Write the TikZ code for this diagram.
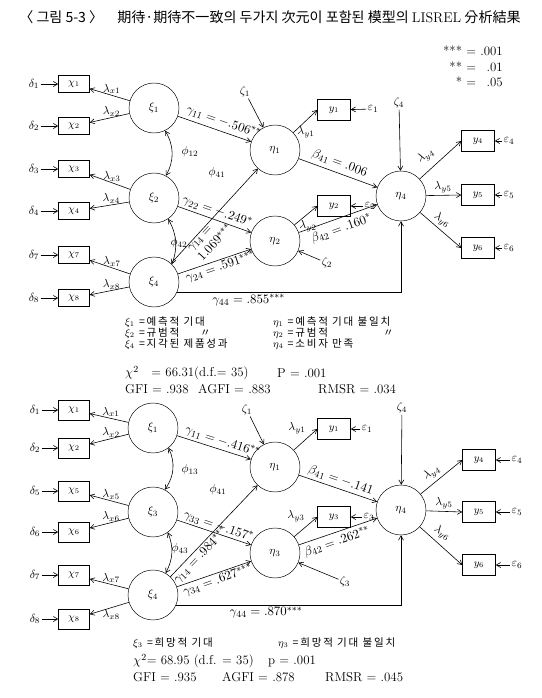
\documentclass[tikz,border=0pt]{standalone}
\usepackage{amsmath}
\usepackage{fontspec}
\newfontfamily\kr{Noto Sans CJK KR}
\usetikzlibrary{
  positioning,
  arrows.meta
}
\newcommand{\statfont}{\fontsize{11}{13}\selectfont\addfontfeatures{LetterSpace=12}}

\begin{document}
\begin{tikzpicture}[
  x=0.03cm, y=-0.03cm,
  lat/.style={draw, circle, minimum size=1.5cm, inner sep=0pt},
  xbox/.style={draw, minimum width=0.93cm, minimum height=0.5cm, inner sep=0pt, font=\small},
  xboxb/.style={xbox, minimum height=0.6cm},
  ybox/.style={draw, minimum width=0.99cm, minimum height=0.63cm, inner sep=0pt, font=\small},
  lab/.style={inner sep=1pt},
  val/.style={inner sep=1pt, font=\fontsize{11}{13}\selectfont},
  txt/.style={inner sep=0pt, anchor=west, font=\statfont},
  kor/.style={inner sep=0pt, anchor=west, font=\kr\fontsize{9}{10}\selectfont\addfontfeatures{LetterSpace=17}},
  arr/.style={-{Straight Barb[length=1.3mm, width=1.5mm]}, line width=0.5pt},
  darr/.style={{Straight Barb[length=1.3mm, width=1.5mm]}-{Straight Barb[length=1.3mm, width=1.5mm]}, line width=0.5pt}
]
  \useasboundingbox (0,0) rectangle (542,698);

  % Title and significance levels
  \node[font=\kr\fontsize{12}{14}\selectfont] (title) at (270,17)
    {〈 그림 5-3 〉\quad 期待·期待不一致의 두가지 次元이 포함된 模型의 {\rmfamily LISREL} 分析結果};
  \node[anchor=east, inner sep=0pt, font=\fontsize{11}{13}\selectfont] (sig) at (503,68)
    {\begin{tabular}{@{}r@{ = }r@{}} ***&.001\\ **&.01\\ *&.05\end{tabular}};

  % ---------- first model ----------
  \node[lat] (txi1) at (154,108) {$\xi_1$};
  \node[lat] (txi2) at (154,198) {$\xi_2$};
  \node[lat] (txi4) at (154,282) {$\xi_4$};
  \node[lat] (teta1) at (275,150) {$\eta_1$};
  \node[lat] (teta2) at (275,241) {$\eta_2$};
  \node[lat] (teta4) at (401,196) {$\eta_4$};

  \foreach \n/\yy/\src in {1/84/txi1, 2/126/txi1, 3/169/txi2, 4/211/txi2, 7/255/txi4, 8/298/txi4} {
    \node[xbox] (tx\n) at (74,\yy) {$\chi_{\n}$};
    \node[lab] (td\n) at (34,\yy) {$\delta_{\n}$};
    \draw[arr] (td\n) -- (tx\n);
    \draw[arr] (\src) -- (tx\n) node[lab, anchor=south, pos=0.45] {$\lambda_{x\n}$};
  }

  \node[ybox] (ty1) at (334,110) {$y_1$};
  \node[ybox] (ty2) at (334,206) {$y_2$};
  \node[ybox] (ty4) at (478,141) {$y_4$};
  \node[ybox] (ty5) at (478,195) {$y_5$};
  \node[ybox] (ty6) at (478,248) {$y_6$};
  \node[lab] (te1) at (373,109) {$\varepsilon_1$};
  \node[lab] (te2) at (370,206) {$\varepsilon_2$};
  \node[lab] (te4) at (509,141) {$\varepsilon_4$};
  \node[lab] (te5) at (509,195) {$\varepsilon_5$};
  \node[lab] (te6) at (509,248) {$\varepsilon_6$};
  \foreach \n in {1,2,4,5,6} \draw[arr] (te\n) -- (ty\n);

  \node[lab] (tz1) at (245,92) {$\zeta_1$};
  \node[lab] (tz2) at (327,263) {$\zeta_2$};
  \node[lab] (tz4) at (399,103) {$\zeta_4$};
  \draw[arr] (tz1) -- (teta1);
  \draw[arr] (tz2) -- (teta2);
  \draw[arr] (tz4) -- (teta4);

  % loadings of the eta's
  \draw[arr] (teta1) -- (ty1.west);
  \draw[arr] (teta2) -- (ty2.west);
  \draw[arr] (teta4) -- (ty4.west);
  \draw[arr] (teta4) -- (ty5.west);
  \draw[arr] (teta4) -- (ty6.west);
  \node[lab] (tly1) at (306,132) {$\lambda_{y1}$};
  \node[lab] (tly2) at (308,226) {$\lambda_{y2}$};
  \node[lab, rotate=30] (tly4) at (426,156) {$\lambda_{y4}$};
  \node[lab] (tly5) at (443,187) {$\lambda_{y5}$};
  \node[lab, rotate=-35] (tly6) at (442,220) {$\lambda_{y6}$};

  % correlations
  \draw[darr] (txi1.-64) to[bend left=30] (txi2.62);
  \draw[darr] (txi2.-56) to[bend left=25] (txi4.45);
  \node[lab] (tphi12) at (190,152) {$\phi_{12}$};
  \node[lab] (tphi42) at (179,243) {$\phi_{42}$};
  \node[lab] (tphi41) at (217,173) {$\phi_{41}$};

  % structural paths
  \draw[arr] (txi1) -- (teta1) node[val, sloped, above=2pt, pos=0.58] {$\gamma_{11}=-.506^{**}$};
  \draw[arr] (txi2) -- (teta2) node[val, sloped, above=1pt, pos=0.5] {$\gamma_{22}=-.249^{*}$};
  \draw[arr] (txi4) -- (teta1) node[val, sloped, below, pos=0.35, align=left] {$\gamma_{14}=$\\$1.069^{***}$};
  \draw[arr] (txi4) -- (teta2) node[val, sloped, below, pos=0.55] {$\gamma_{24}=.591^{***}$};
  \draw[arr] (txi4.-25) -| (teta4) node[val, below, pos=0.16] {$\gamma_{44}=.855^{***}$};
  \draw[arr] (teta1) -- (teta4) node[val, sloped, above=2pt, pos=0.48] {$\beta_{41}=.006$};
  \draw[arr] (teta2) -- (teta4) node[val, sloped, below=3pt, pos=0.5] {$\beta_{42}=.160^{*}$};

  % legend
  \node[kor] (tk1) at (125,322) {$\xi_1$ =예측적 기대};
  \node[kor] (tk2) at (125,333) {$\xi_2$ =규범적};
  \node[kor] (tk2d) at (200,333) {〃};
  \node[kor] (tk4) at (125,344) {$\xi_4$ =지각된 제품성과};
  \node[kor] (tm1) at (273,322) {$\eta_1$ =예측적 기대 불일치};
  \node[kor] (tm2) at (273,333) {$\eta_2$ =규범적};
  \node[kor] (tm2d) at (383,333) {〃};
  \node[kor] (tm4) at (273,344) {$\eta_4$ =소비자 만족};
  \node[txt] (tchi) at (125,373) {$\chi^2$\ \ \ = 66.31(d.f.= 35)};
  \node[txt] (tp) at (277,373) {P = .001};
  \node[txt] (tgfi) at (125,389) {GFI = .938};
  \node[txt] (tagfi) at (198,389) {AGFI = .883};
  \node[txt] (trmsr) at (318,389) {RMSR = .034};

  % ---------- second model ----------
  \node[lat] (bxi1) at (153,428) {$\xi_1$};
  \node[lat] (bxi3) at (153,512) {$\xi_3$};
  \node[lat] (bxi4) at (153,595) {$\xi_4$};
  \node[lat] (beta1) at (275,467) {$\eta_1$};
  \node[lat] (beta3) at (275,553) {$\eta_3$};
  \node[lat] (beta4) at (401,510) {$\eta_4$};

  \foreach \n/\yy/\src/\aa in {1/410/bxi1/south, 2/448/bxi1/south, 5/491/bxi3/south, 6/532/bxi3/south, 7/575/bxi4/south, 8/619/bxi4/north} {
    \node[xboxb] (bx\n) at (74,\yy) {$\chi_{\n}$};
    \node[lab] (bd\n) at (35,\yy) {$\delta_{\n}$};
    \draw[arr] (bd\n) -- (bx\n);
    \draw[arr] (\src) -- (bx\n) node[lab, anchor=\aa, pos=0.45] {$\lambda_{x\n}$};
  }

  \node[ybox] (by1) at (334,429) {$y_1$};
  \node[ybox] (by3) at (334,517) {$y_3$};
  \node[ybox] (by4) at (479,460) {$y_4$};
  \node[ybox] (by5) at (479,512) {$y_5$};
  \node[ybox] (by6) at (479,565) {$y_6$};
  \node[lab] (be1) at (367,429) {$\varepsilon_1$};
  \node[lab] (be3) at (369,517) {$\varepsilon_3$};
  \node[lab] (be4) at (517,460) {$\varepsilon_4$};
  \node[lab] (be5) at (517,512) {$\varepsilon_5$};
  \node[lab] (be6) at (517,565) {$\varepsilon_6$};
  \foreach \n in {1,3,4,5,6} \draw[arr] (be\n) -- (by\n);

  \node[lab] (bz1) at (247,410) {$\zeta_1$};
  \node[lab] (bz3) at (345,582) {$\zeta_3$};
  \node[lab] (bz4) at (402,408) {$\zeta_4$};
  \draw[arr] (bz1) -- (beta1);
  \draw[arr] (bz3) -- (beta3);
  \draw[arr] (bz4) -- (beta4);

  \draw[arr] (beta1) -- (by1.west);
  \draw[arr] (beta3) -- (by3.west);
  \draw[arr] (beta4) -- (by4.west);
  \draw[arr] (beta4) -- (by5.west);
  \draw[arr] (beta4) -- (by6.west);
  \node[lab] (bly1) at (297,428) {$\lambda_{y1}$};
  \node[lab] (bly3) at (296,516) {$\lambda_{y3}$};
  \node[lab, rotate=30] (bly4) at (432,473) {$\lambda_{y4}$};
  \node[lab] (bly5) at (444,503) {$\lambda_{y5}$};
  \node[lab, rotate=-35] (bly6) at (442,533) {$\lambda_{y6}$};

  \draw[darr] (bxi1.-52) to[bend left=30] (bxi3.62);
  \draw[darr] (bxi3.-54) to[bend left=25] (bxi4.60);
  \node[lab] (bphi13) at (190,470) {$\phi_{13}$};
  \node[lab] (bphi43) at (180,549) {$\phi_{43}$};
  \node[lab] (bphi41) at (218,490) {$\phi_{41}$};

  \draw[arr] (bxi1) -- (beta1) node[val, sloped, above=1pt, pos=0.58] {$\gamma_{11}=-.416^{**}$};
  \draw[arr] (bxi3) -- (beta3) node[val, sloped, above, pos=0.53] {$\gamma_{33}=-.157^{*}$};
  \draw[arr] (bxi4) -- (beta1) node[val, sloped, below, pos=0.29] {$\gamma_{14}=.984^{***}$};
  \draw[arr] (bxi4) -- (beta3) node[val, sloped, below, pos=0.52] {$\gamma_{34}=.627^{***}$};
  \draw[arr] (bxi4.-24) -| (beta4) node[val, below, pos=0.2] {$\gamma_{44}=.870^{***}$};
  \draw[arr] (beta1) -- (beta4) node[val, sloped, above=1pt, pos=0.5] {$\beta_{41}=-.141$};
  \draw[arr] (beta3) -- (beta4) node[val, sloped, below=2pt, pos=0.45] {$\beta_{42}=.262^{**}$};

  \node[kor] (bk3) at (133,643) {$\xi_3$ =희망적 기대};
  \node[kor] (bm3) at (278,643) {$\eta_3$ =희망적 기대 불일치};
  \node[txt] (bchi) at (133,661) {$\chi^2$= 68.95 (d.f. = 35)};
  \node[txt] (bp) at (268,661) {p = .001};
  \node[txt] (bgfi) at (133,677) {GFI = .935};
  \node[txt] (bagfi) at (222,677) {AGFI = .878};
  \node[txt] (brmsr) at (325,677) {RMSR = .045};
\end{tikzpicture}
\end{document}
